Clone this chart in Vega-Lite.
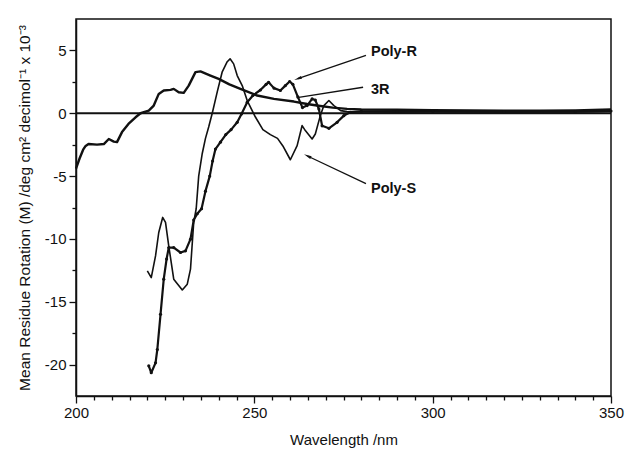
{
  "$schema": "https://vega.github.io/schema/vega-lite/v6.json",
  "width": 535,
  "height": 377,
  "autosize": {"type": "none"},
  "padding": {"left": 76, "top": 19, "right": 14, "bottom": 56},
  "background": "white",
  "config": {
    "view": {"stroke": "#111", "strokeWidth": 1.5},
    "font": "Liberation Sans",
    "axis": {
      "domainColor": "#111", "domainWidth": 1.5, "tickColor": "#111", "tickWidth": 1.3,
      "labelFont": "Liberation Sans", "labelFontSize": 15, "labelColor": "#111",
      "titleFont": "Liberation Sans", "titleFontSize": 15, "titleFontWeight": "normal", "titleColor": "#111",
      "grid": false, "labelOverlap": false
    }
  },
  "datasets": {
    "series": [
      {"s": "3R", "wl": 200, "v": -4.4}, {"s": "3R", "wl": 201, "v": -3.6}, {"s": "3R", "wl": 202, "v": -2.9},
      {"s": "3R", "wl": 202.7, "v": -2.6}, {"s": "3R", "wl": 203.5, "v": -2.45}, {"s": "3R", "wl": 205.9, "v": -2.5},
      {"s": "3R", "wl": 207.8, "v": -2.45}, {"s": "3R", "wl": 209.2, "v": -2.05}, {"s": "3R", "wl": 210.6, "v": -2.26},
      {"s": "3R", "wl": 211.5, "v": -2.3}, {"s": "3R", "wl": 212.9, "v": -1.5}, {"s": "3R", "wl": 214.7, "v": -0.85},
      {"s": "3R", "wl": 216.7, "v": -0.32}, {"s": "3R", "wl": 218.1, "v": 0}, {"s": "3R", "wl": 220.4, "v": 0.21},
      {"s": "3R", "wl": 221.8, "v": 0.61}, {"s": "3R", "wl": 223.2, "v": 1.54}, {"s": "3R", "wl": 224.6, "v": 1.81},
      {"s": "3R", "wl": 226.5, "v": 1.86}, {"s": "3R", "wl": 227.4, "v": 1.94}, {"s": "3R", "wl": 228.8, "v": 1.67},
      {"s": "3R", "wl": 230.2, "v": 1.62}, {"s": "3R", "wl": 231.6, "v": 2.2}, {"s": "3R", "wl": 233.5, "v": 3.27},
      {"s": "3R", "wl": 234.9, "v": 3.33}, {"s": "3R", "wl": 237.7, "v": 3.0}, {"s": "3R", "wl": 240.0, "v": 2.74},
      {"s": "3R", "wl": 243, "v": 2.3}, {"s": "3R", "wl": 246.1, "v": 1.94}, {"s": "3R", "wl": 250.8, "v": 1.41},
      {"s": "3R", "wl": 255.5, "v": 1.14}, {"s": "3R", "wl": 261.1, "v": 0.93}, {"s": "3R", "wl": 264.8, "v": 0.74},
      {"s": "3R", "wl": 268, "v": 0.6}, {"s": "3R", "wl": 272, "v": 0.45}, {"s": "3R", "wl": 276, "v": 0.35},
      {"s": "3R", "wl": 280, "v": 0.3}, {"s": "3R", "wl": 290, "v": 0.28}, {"s": "3R", "wl": 300, "v": 0.25},
      {"s": "3R", "wl": 310, "v": 0.22}, {"s": "3R", "wl": 320, "v": 0.2}, {"s": "3R", "wl": 330, "v": 0.2},
      {"s": "3R", "wl": 340, "v": 0.22}, {"s": "3R", "wl": 350, "v": 0.3},

      {"s": "Poly-S", "wl": 220.0, "v": -12.55}, {"s": "Poly-S", "wl": 221.1, "v": -13.08}, {"s": "Poly-S", "wl": 222.3, "v": -11.35},
      {"s": "Poly-S", "wl": 223.2, "v": -9.49}, {"s": "Poly-S", "wl": 224.3, "v": -8.29}, {"s": "Poly-S", "wl": 225.1, "v": -8.69},
      {"s": "Poly-S", "wl": 226.0, "v": -10.55}, {"s": "Poly-S", "wl": 227.4, "v": -13.2}, {"s": "Poly-S", "wl": 229.8, "v": -14.06},
      {"s": "Poly-S", "wl": 231.2, "v": -13.6}, {"s": "Poly-S", "wl": 232.1, "v": -12.4}, {"s": "Poly-S", "wl": 233.0, "v": -8.69},
      {"s": "Poly-S", "wl": 233.7, "v": -7.6}, {"s": "Poly-S", "wl": 234.4, "v": -5.0}, {"s": "Poly-S", "wl": 235.4, "v": -3.2},
      {"s": "Poly-S", "wl": 236.3, "v": -2.0}, {"s": "Poly-S", "wl": 237.2, "v": -1.1}, {"s": "Poly-S", "wl": 238.2, "v": 0.0},
      {"s": "Poly-S", "wl": 239.6, "v": 1.7}, {"s": "Poly-S", "wl": 241.0, "v": 3.3}, {"s": "Poly-S", "wl": 242.4, "v": 4.1},
      {"s": "Poly-S", "wl": 243.2, "v": 4.33}, {"s": "Poly-S", "wl": 244.2, "v": 3.93}, {"s": "Poly-S", "wl": 245.2, "v": 3.0},
      {"s": "Poly-S", "wl": 246.6, "v": 2.2}, {"s": "Poly-S", "wl": 248.0, "v": 1.01}, {"s": "Poly-S", "wl": 250.3, "v": -0.3},
      {"s": "Poly-S", "wl": 252.4, "v": -1.3}, {"s": "Poly-S", "wl": 254.5, "v": -1.7}, {"s": "Poly-S", "wl": 256.5, "v": -2.0},
      {"s": "Poly-S", "wl": 258.0, "v": -2.6}, {"s": "Poly-S", "wl": 260.1, "v": -3.7}, {"s": "Poly-S", "wl": 262.0, "v": -2.58},
      {"s": "Poly-S", "wl": 263.4, "v": -0.98}, {"s": "Poly-S", "wl": 264.3, "v": -1.38}, {"s": "Poly-S", "wl": 266.2, "v": -2.05},
      {"s": "Poly-S", "wl": 267.1, "v": -1.65}, {"s": "Poly-S", "wl": 268.5, "v": -0.19}, {"s": "Poly-S", "wl": 269.5, "v": 0.61},
      {"s": "Poly-S", "wl": 270.9, "v": 1.01}, {"s": "Poly-S", "wl": 272.3, "v": 0.61}, {"s": "Poly-S", "wl": 274.2, "v": 0.21},
      {"s": "Poly-S", "wl": 276, "v": 0.13}, {"s": "Poly-S", "wl": 280, "v": 0.1}, {"s": "Poly-S", "wl": 290, "v": 0.08},
      {"s": "Poly-S", "wl": 300, "v": 0.1}, {"s": "Poly-S", "wl": 320, "v": 0.08}, {"s": "Poly-S", "wl": 340, "v": 0.1},
      {"s": "Poly-S", "wl": 350, "v": 0.15},

      {"s": "Poly-R", "wl": 220.4, "v": -20.1}, {"s": "Poly-R", "wl": 221.1, "v": -20.65}, {"s": "Poly-R", "wl": 222.3, "v": -19.86},
      {"s": "Poly-R", "wl": 222.8, "v": -18.8}, {"s": "Poly-R", "wl": 223.7, "v": -16.0}, {"s": "Poly-R", "wl": 224.6, "v": -13.2},
      {"s": "Poly-R", "wl": 225.4, "v": -11.6}, {"s": "Poly-R", "wl": 226.0, "v": -10.69}, {"s": "Poly-R", "wl": 227.4, "v": -10.69},
      {"s": "Poly-R", "wl": 229.3, "v": -11.08}, {"s": "Poly-R", "wl": 230.7, "v": -10.95}, {"s": "Poly-R", "wl": 232.1, "v": -10.02},
      {"s": "Poly-R", "wl": 233.0, "v": -8.5}, {"s": "Poly-R", "wl": 234.0, "v": -8.0}, {"s": "Poly-R", "wl": 235.2, "v": -7.6},
      {"s": "Poly-R", "wl": 236.3, "v": -6.2}, {"s": "Poly-R", "wl": 237.5, "v": -5.0}, {"s": "Poly-R", "wl": 238.3, "v": -3.8},
      {"s": "Poly-R", "wl": 239.1, "v": -2.85}, {"s": "Poly-R", "wl": 240.5, "v": -2.3}, {"s": "Poly-R", "wl": 242.0, "v": -1.7},
      {"s": "Poly-R", "wl": 243.5, "v": -1.3}, {"s": "Poly-R", "wl": 245.2, "v": -0.72}, {"s": "Poly-R", "wl": 246.4, "v": -0.05},
      {"s": "Poly-R", "wl": 248.0, "v": 0.88}, {"s": "Poly-R", "wl": 249.6, "v": 1.41}, {"s": "Poly-R", "wl": 251.7, "v": 1.85},
      {"s": "Poly-R", "wl": 253.3, "v": 2.3}, {"s": "Poly-R", "wl": 254.0, "v": 2.47}, {"s": "Poly-R", "wl": 255.5, "v": 2.0},
      {"s": "Poly-R", "wl": 257.3, "v": 1.81}, {"s": "Poly-R", "wl": 258.7, "v": 2.2}, {"s": "Poly-R", "wl": 259.9, "v": 2.53},
      {"s": "Poly-R", "wl": 260.8, "v": 2.3}, {"s": "Poly-R", "wl": 262.2, "v": 1.3}, {"s": "Poly-R", "wl": 263.5, "v": 0.45},
      {"s": "Poly-R", "wl": 264.8, "v": 0.61}, {"s": "Poly-R", "wl": 266.2, "v": 1.14}, {"s": "Poly-R", "wl": 267.1, "v": 1.05},
      {"s": "Poly-R", "wl": 268.1, "v": 0.34}, {"s": "Poly-R", "wl": 269.0, "v": -1.0}, {"s": "Poly-R", "wl": 270.9, "v": -1.2},
      {"s": "Poly-R", "wl": 273.2, "v": -0.72}, {"s": "Poly-R", "wl": 275.1, "v": -0.19}, {"s": "Poly-R", "wl": 276.9, "v": 0.08},
      {"s": "Poly-R", "wl": 280, "v": 0.15}, {"s": "Poly-R", "wl": 290, "v": 0.15}, {"s": "Poly-R", "wl": 300, "v": 0.15},
      {"s": "Poly-R", "wl": 320, "v": 0.12}, {"s": "Poly-R", "wl": 340, "v": 0.12}, {"s": "Poly-R", "wl": 350, "v": 0.18}
    ],
    "notes": [
      {"name": "Poly-R", "tx": 282.7, "ty": 4.87, "x1": 281.3, "y1": 4.6, "x2": 262.2, "y2": 2.75},
      {"name": "3R", "tx": 282.7, "ty": 1.84, "x1": 280.5, "y1": 2.07, "x2": 262.0, "y2": 1.25},
      {"name": "Poly-S", "tx": 282.7, "ty": -6.05, "x1": 281.3, "y1": -5.6, "x2": 264.9, "y2": -3.4}
    ],
    "zero": [{"v": 0}]
  },
  "layer": [
    {
      "data": {"name": "series"},
      "transform": [{"filter": "datum.s === '3R'"}],
      "mark": {"type": "line", "color": "#111", "strokeWidth": 2.4, "strokeJoin": "round"},
      "encoding": {
        "x": {"field": "wl", "type": "quantitative", "scale": {"domain": [200, 350], "nice": false, "zero": false},
          "axis": {"title": "Wavelength /nm", "values": [200,205,210,215,220,225,230,235,240,245,250,255,260,265,270,275,280,285,290,295,300,305,310,315,320,325,330,335,340,345,350], "labelExpr": "datum.value % 50 === 0 ? datum.label : ''", "tickSize": {"expr": "datum.value % 50 === 0 ? 7 : 4"}, "labelPadding": 2, "titlePadding": 12, "labelFlush": false}},
        "y": {"field": "v", "type": "quantitative", "scale": {"domain": [-22.5, 7.5], "nice": false, "zero": false},
          "axis": {"title": "Mean Residue Rotation (M) /deg cm² decimol⁻¹  x 10⁻³", "values": [-20, -17.5, -15, -12.5, -10, -7.5, -5, -2.5, 0, 2.5, 5], "labelExpr": "datum.value % 5 === 0 ? ('' + datum.value) : ''", "tickSize": {"expr": "datum.value % 5 === 0 ? 7 : 4"}, "labelPadding": 3, "titlePadding": 12, "titleFontSize": 15.5}}
      }
    },
    {
      "data": {"name": "zero"},
      "mark": {"type": "rule", "color": "#111", "strokeWidth": 1.8},
      "encoding": {
        "y": {"field": "v", "type": "quantitative", "scale": {"domain": [-22.5, 7.5], "nice": false, "zero": false},
          "axis": {"title": "Mean Residue Rotation (M) /deg cm² decimol⁻¹  x 10⁻³", "values": [-20, -17.5, -15, -12.5, -10, -7.5, -5, -2.5, 0, 2.5, 5], "labelExpr": "datum.value % 5 === 0 ? ('' + datum.value) : ''", "tickSize": {"expr": "datum.value % 5 === 0 ? 7 : 4"}, "labelPadding": 3, "titlePadding": 12, "titleFontSize": 15.5}}
      }
    },
    {
      "data": {"name": "series"},
      "transform": [{"filter": "datum.s === 'Poly-S'"}],
      "mark": {"type": "line", "color": "#111", "strokeWidth": 1.6, "strokeJoin": "round"},
      "encoding": {
        "x": {"field": "wl", "type": "quantitative", "scale": {"domain": [200, 350], "nice": false, "zero": false},
          "axis": {"title": "Wavelength /nm", "values": [200,205,210,215,220,225,230,235,240,245,250,255,260,265,270,275,280,285,290,295,300,305,310,315,320,325,330,335,340,345,350], "labelExpr": "datum.value % 50 === 0 ? datum.label : ''", "tickSize": {"expr": "datum.value % 50 === 0 ? 7 : 4"}, "labelPadding": 2, "titlePadding": 12, "labelFlush": false}},
        "y": {"field": "v", "type": "quantitative", "scale": {"domain": [-22.5, 7.5], "nice": false, "zero": false},
          "axis": {"title": "Mean Residue Rotation (M) /deg cm² decimol⁻¹  x 10⁻³", "values": [-20, -17.5, -15, -12.5, -10, -7.5, -5, -2.5, 0, 2.5, 5], "labelExpr": "datum.value % 5 === 0 ? ('' + datum.value) : ''", "tickSize": {"expr": "datum.value % 5 === 0 ? 7 : 4"}, "labelPadding": 3, "titlePadding": 12, "titleFontSize": 15.5}}
      }
    },
    {
      "data": {"name": "series"},
      "transform": [{"filter": "datum.s === 'Poly-R'"}],
      "mark": {"type": "line", "color": "#111", "strokeWidth": 2.2, "strokeJoin": "round", "point": {"filled": true, "color": "#111", "size": 10}},
      "encoding": {
        "x": {"field": "wl", "type": "quantitative", "scale": {"domain": [200, 350], "nice": false, "zero": false},
          "axis": {"title": "Wavelength /nm", "values": [200,205,210,215,220,225,230,235,240,245,250,255,260,265,270,275,280,285,290,295,300,305,310,315,320,325,330,335,340,345,350], "labelExpr": "datum.value % 50 === 0 ? datum.label : ''", "tickSize": {"expr": "datum.value % 50 === 0 ? 7 : 4"}, "labelPadding": 2, "titlePadding": 12, "labelFlush": false}},
        "y": {"field": "v", "type": "quantitative", "scale": {"domain": [-22.5, 7.5], "nice": false, "zero": false},
          "axis": {"title": "Mean Residue Rotation (M) /deg cm² decimol⁻¹  x 10⁻³", "values": [-20, -17.5, -15, -12.5, -10, -7.5, -5, -2.5, 0, 2.5, 5], "labelExpr": "datum.value % 5 === 0 ? ('' + datum.value) : ''", "tickSize": {"expr": "datum.value % 5 === 0 ? 7 : 4"}, "labelPadding": 3, "titlePadding": 12, "titleFontSize": 15.5}}
      }
    },
    {
      "data": {"name": "notes"},
      "mark": {"type": "rule", "color": "#111", "strokeWidth": 1.3},
      "encoding": {
        "x": {"field": "x1", "type": "quantitative", "scale": {"domain": [200, 350], "nice": false, "zero": false},
          "axis": {"title": "Wavelength /nm", "values": [200,205,210,215,220,225,230,235,240,245,250,255,260,265,270,275,280,285,290,295,300,305,310,315,320,325,330,335,340,345,350], "labelExpr": "datum.value % 50 === 0 ? datum.label : ''", "tickSize": {"expr": "datum.value % 50 === 0 ? 7 : 4"}, "labelPadding": 2, "titlePadding": 12, "labelFlush": false}},
        "y": {"field": "y1", "type": "quantitative", "scale": {"domain": [-22.5, 7.5], "nice": false, "zero": false},
          "axis": {"title": "Mean Residue Rotation (M) /deg cm² decimol⁻¹  x 10⁻³", "values": [-20, -17.5, -15, -12.5, -10, -7.5, -5, -2.5, 0, 2.5, 5], "labelExpr": "datum.value % 5 === 0 ? ('' + datum.value) : ''", "tickSize": {"expr": "datum.value % 5 === 0 ? 7 : 4"}, "labelPadding": 3, "titlePadding": 12, "titleFontSize": 15.5}},
        "x2": {"field": "x2"},
        "y2": {"field": "y2"}
      }
    },
    {
      "data": {"name": "notes"},
      "transform": [{"filter": "datum.name === 'Poly-R'"}],
      "mark": {"type": "point", "shape": "M0,-1L0.4,1L-0.4,1Z", "filled": true, "color": "#111", "size": 60, "angle": 250, "opacity": 1},
      "encoding": {
        "x": {"field": "x2", "type": "quantitative", "scale": {"domain": [200, 350], "nice": false, "zero": false},
          "axis": {"title": "Wavelength /nm", "values": [200,205,210,215,220,225,230,235,240,245,250,255,260,265,270,275,280,285,290,295,300,305,310,315,320,325,330,335,340,345,350], "labelExpr": "datum.value % 50 === 0 ? datum.label : ''", "tickSize": {"expr": "datum.value % 50 === 0 ? 7 : 4"}, "labelPadding": 2, "titlePadding": 12, "labelFlush": false}},
        "y": {"field": "y2", "type": "quantitative", "scale": {"domain": [-22.5, 7.5], "nice": false, "zero": false},
          "axis": {"title": "Mean Residue Rotation (M) /deg cm² decimol⁻¹  x 10⁻³", "values": [-20, -17.5, -15, -12.5, -10, -7.5, -5, -2.5, 0, 2.5, 5], "labelExpr": "datum.value % 5 === 0 ? ('' + datum.value) : ''", "tickSize": {"expr": "datum.value % 5 === 0 ? 7 : 4"}, "labelPadding": 3, "titlePadding": 12, "titleFontSize": 15.5}}
      }
    },
    {
      "data": {"name": "notes"},
      "transform": [{"filter": "datum.name === 'Poly-S'"}],
      "mark": {"type": "point", "shape": "M0,-1L0.4,1L-0.4,1Z", "filled": true, "color": "#111", "size": 60, "angle": 297, "opacity": 1},
      "encoding": {
        "x": {"field": "x2", "type": "quantitative", "scale": {"domain": [200, 350], "nice": false, "zero": false},
          "axis": {"title": "Wavelength /nm", "values": [200,205,210,215,220,225,230,235,240,245,250,255,260,265,270,275,280,285,290,295,300,305,310,315,320,325,330,335,340,345,350], "labelExpr": "datum.value % 50 === 0 ? datum.label : ''", "tickSize": {"expr": "datum.value % 50 === 0 ? 7 : 4"}, "labelPadding": 2, "titlePadding": 12, "labelFlush": false}},
        "y": {"field": "y2", "type": "quantitative", "scale": {"domain": [-22.5, 7.5], "nice": false, "zero": false},
          "axis": {"title": "Mean Residue Rotation (M) /deg cm² decimol⁻¹  x 10⁻³", "values": [-20, -17.5, -15, -12.5, -10, -7.5, -5, -2.5, 0, 2.5, 5], "labelExpr": "datum.value % 5 === 0 ? ('' + datum.value) : ''", "tickSize": {"expr": "datum.value % 5 === 0 ? 7 : 4"}, "labelPadding": 3, "titlePadding": 12, "titleFontSize": 15.5}}
      }
    },
    {
      "data": {"name": "notes"},
      "mark": {"type": "text", "align": "left", "baseline": "middle", "font": "Liberation Sans", "fontSize": 14.5, "fontWeight": "bold", "color": "#111"},
      "encoding": {
        "x": {"field": "tx", "type": "quantitative", "scale": {"domain": [200, 350], "nice": false, "zero": false},
          "axis": {"title": "Wavelength /nm", "values": [200,205,210,215,220,225,230,235,240,245,250,255,260,265,270,275,280,285,290,295,300,305,310,315,320,325,330,335,340,345,350], "labelExpr": "datum.value % 50 === 0 ? datum.label : ''", "tickSize": {"expr": "datum.value % 50 === 0 ? 7 : 4"}, "labelPadding": 2, "titlePadding": 12, "labelFlush": false}},
        "y": {"field": "ty", "type": "quantitative", "scale": {"domain": [-22.5, 7.5], "nice": false, "zero": false},
          "axis": {"title": "Mean Residue Rotation (M) /deg cm² decimol⁻¹  x 10⁻³", "values": [-20, -17.5, -15, -12.5, -10, -7.5, -5, -2.5, 0, 2.5, 5], "labelExpr": "datum.value % 5 === 0 ? ('' + datum.value) : ''", "tickSize": {"expr": "datum.value % 5 === 0 ? 7 : 4"}, "labelPadding": 3, "titlePadding": 12, "titleFontSize": 15.5}},
        "text": {"field": "name"}
      }
    }
  ]
}
